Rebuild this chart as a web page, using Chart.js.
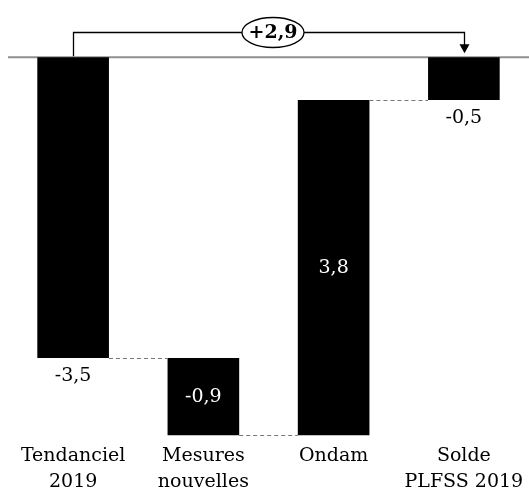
<!DOCTYPE html>
<html>
<head>
<meta charset="utf-8">
<script src="https://cdn.jsdelivr.net/npm/chart.js@4/dist/chart.umd.min.js"></script>
<style>
  html,body{margin:0;padding:0;background:#fff;}
  #wrap{width:529px;height:492px;}
</style>
</head>
<body>
<div id="wrap"><canvas id="chart"></canvas></div>
<script>
/* ===== DONNEES ===== */
const CATEGORIES = [["Tendanciel","2019"],["Mesures","nouvelles"],["Ondam"],["Solde","PLFSS 2019"]];
const BAR_START  = [0, -3.5, -4.4, -0.5];
const BAR_END    = [-3.5, -4.4, -0.5, 0];
const VALUE_TEXT = ["-3,5","-0,9","3,8","-0,5"];
const TOTAL_TEXT = "+2,9";
const BRACKET_LEVEL = 0.29;

const FONT = "'DejaVu Serif', 'Liberation Serif', serif";

/* ===== DECOR: ligne zero, liaisons, etiquettes, accolade ===== */
const waterfallDecor = {
    id:'waterfallDecor',
    beforeDatasetsDraw(chart){
        const {ctx, chartArea, scales:{y}} = chart;
        const y0 = y.getPixelForValue(0);
        ctx.save();
        ctx.strokeStyle = '#8f8f8f';
        ctx.lineWidth = 2;
        ctx.beginPath();
        ctx.moveTo(chartArea.left, y0);
        ctx.lineTo(chartArea.right, y0);
        ctx.stroke();
        ctx.restore();
    },
    afterDatasetsDraw(chart, args, opts){
        const {ctx, scales:{y}} = chart;
        const bars = chart.getDatasetMeta(0).data;
        ctx.save();

        // liaisons en pointillés
        ctx.strokeStyle = '#777';
        ctx.lineWidth = 1;
        ctx.setLineDash([4,3]);
        for(let i=0;i<bars.length-1;i++){
            const a = bars[i], b = bars[i+1];
            const yy = Math.round(y.getPixelForValue(BAR_END[i])) + 0.5;
            ctx.beginPath();
            ctx.moveTo(a.x + a.width/2, yy);
            ctx.lineTo(b.x - b.width/2, yy);
            ctx.stroke();
        }
        ctx.setLineDash([]);

        // valeurs
        ctx.font = "19px " + FONT;
        ctx.textAlign = 'center';
        ctx.textBaseline = 'middle';
        bars.forEach((bar,i)=>{
            const top = y.getPixelForValue(Math.max(BAR_START[i],BAR_END[i]));
            const bot = y.getPixelForValue(Math.min(BAR_START[i],BAR_END[i]));
            if(opts.inside[i]){
                ctx.fillStyle = '#fff';
                ctx.fillText(VALUE_TEXT[i], bar.x, (top+bot)/2);
            }else{
                ctx.fillStyle = '#000';
                ctx.fillText(VALUE_TEXT[i], bar.x, bot + 18);
            }
        });

        // accolade +2,9
        const first = bars[0], last = bars[bars.length-1];
        const y0 = y.getPixelForValue(0);
        const yb = Math.round(y.getPixelForValue(BRACKET_LEVEL)) + 0.5;
        const xl = Math.round(first.x) + 0.5, xr = Math.round(last.x) + 0.5;
        ctx.strokeStyle = '#000';
        ctx.lineWidth = 1.3;
        ctx.beginPath();
        ctx.moveTo(xl, y0 - 1);
        ctx.lineTo(xl, yb);
        ctx.lineTo(xr, yb);
        ctx.lineTo(xr, y0 - 12);
        ctx.stroke();
        ctx.fillStyle = '#000';
        ctx.beginPath();
        ctx.moveTo(xr - 5, y0 - 13);
        ctx.lineTo(xr + 5, y0 - 13);
        ctx.lineTo(xr, y0 - 4);
        ctx.closePath();
        ctx.fill();

        const cx = (xl + xr)/2 + 4;
        ctx.fillStyle = '#fff';
        ctx.beginPath();
        ctx.ellipse(cx, yb, 31, 15, 0, 0, Math.PI*2);
        ctx.fill();
        ctx.stroke();
        ctx.fillStyle = '#000';
        ctx.font = "bold 19px " + FONT;
        ctx.fillText(TOTAL_TEXT, cx, yb + 1);
        ctx.restore();
    }
};

new Chart(document.getElementById('chart'),{
    type:'bar',
    data:{
        labels:CATEGORIES,
        datasets:[{
            data:BAR_START.map((s,i)=>[s,BAR_END[i]]),
            backgroundColor:'#000',
            borderWidth:0,
            barPercentage:0.55,
            categoryPercentage:1
        }]
    },
    options:{
        responsive:true,
        maintainAspectRatio:false,
        animation:false,
        layout:{padding:{left:8,right:0,top:0,bottom:-8}},
        plugins:{
            legend:{display:false},
            tooltip:{enabled:false},
            waterfallDecor:{inside:[false,true,true,false]}
        },
        scales:{
            x:{
                grid:{display:false, drawTicks:false},
                border:{display:false},
                ticks:{
                    color:'#000',
                    padding:5,
                    maxRotation:0,
                    autoSkip:false,
                    font:{family:FONT,size:19,lineHeight:1.35}
                }
            },
            y:{
                display:false,
                min:-4.44,
                max:0.665
            }
        }
    },
    plugins:[waterfallDecor]
});
</script>
</body>
</html>
